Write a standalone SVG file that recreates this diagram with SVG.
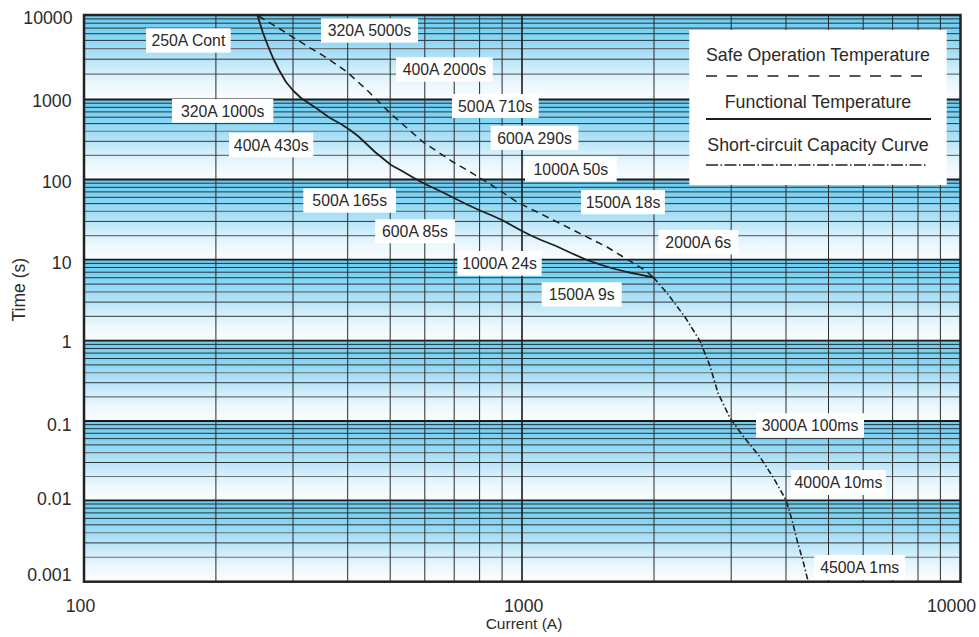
<svg xmlns="http://www.w3.org/2000/svg" width="979" height="637" viewBox="0 0 979 637">
<defs>
<linearGradient id="band" x1="0" y1="0" x2="0" y2="1">
<stop offset="0" stop-color="#68cbf0"/>
<stop offset="0.25" stop-color="#84d5f4"/>
<stop offset="0.45" stop-color="#aadff6"/>
<stop offset="0.65" stop-color="#d0eefa"/>
<stop offset="0.82" stop-color="#ecf8fd"/>
<stop offset="1" stop-color="#fafdff"/>
</linearGradient>
<style>
.band{fill:url(#band)}
.hg{stroke:#222;stroke-width:0.9}
.hgg{stroke:#6b7176;stroke-width:1.1}
.hmaj{stroke:#1a1a1a;stroke-width:1.8}
.vg{stroke:#2a2a2a;stroke-width:1}
.vmaj{stroke:#1a1a1a;stroke-width:1.6}
.border{fill:none;stroke:#222;stroke-width:2.5}
.lbox{fill:#fff}
.lbl{font-family:"Liberation Sans",Arial,sans-serif;font-size:15.8px;fill:#2a2a2a;text-anchor:middle}
.tick{font-family:"Liberation Sans",Arial,sans-serif;font-size:17.7px;fill:#2a2a2a}
.leg{font-family:"Liberation Sans",Arial,sans-serif;font-size:17.8px;fill:#2a2a2a;text-anchor:middle}
.solid{fill:none;stroke:#1f1f1f;stroke-width:1.8;stroke-linejoin:round}
.dash{fill:none;stroke:#1f1f1f;stroke-width:1.5;stroke-dasharray:7 5}
.dashdot{fill:none;stroke:#1f1f1f;stroke-width:1.6;stroke-dasharray:6 2.5 1.5 2.5}
</style>
</defs>
<rect width="979" height="637" fill="#fff"/>
<g id="background">
<rect class="band" x="84" y="15" width="876.5" height="84.5"/>
<rect class="band" x="84" y="99.5" width="876.5" height="80"/>
<rect class="band" x="84" y="179.5" width="876.5" height="80.2"/>
<rect class="band" x="84" y="259.7" width="876.5" height="81"/>
<rect class="band" x="84" y="340.7" width="876.5" height="80.3"/>
<rect class="band" x="84" y="421" width="876.5" height="79.3"/>
<rect class="band" x="84" y="500.3" width="876.5" height="81.4"/>
</g>
<g id="grid-h">
<path class="hg" d="M84 18.9H960.5M84 23.2H960.5M84 28.1H960.5M84 33.7H960.5M84 40.4H960.5M84 59.2H960.5"/>
<path class="hgg" d="M84 48.6H960.5M84 74.1H960.5"/>
<path class="hg" d="M84 103.2H960.5M84 107.3H960.5M84 111.9H960.5M84 117.2H960.5M84 123.6H960.5M84 141.3H960.5"/>
<path class="hgg" d="M84 131.3H960.5M84 155.4H960.5"/>
<path class="hg" d="M84 183.2H960.5M84 187.3H960.5M84 191.9H960.5M84 197.3H960.5M84 203.6H960.5M84 221.4H960.5"/>
<path class="hgg" d="M84 211.4H960.5M84 235.6H960.5"/>
<path class="hg" d="M84 263.4H960.5M84 267.5H960.5M84 272.2H960.5M84 277.7H960.5M84 284.1H960.5M84 302.1H960.5M84 316.3H960.5"/>
<path class="hgg" d="M84 291.9H960.5"/>
<path class="hg" d="M84 344.4H960.5M84 348.5H960.5M84 353.1H960.5M84 358.5H960.5M84 364.9H960.5M84 382.7H960.5"/>
<path class="hgg" d="M84 372.7H960.5M84 396.9H960.5"/>
<path class="hg" d="M84 424.6H960.5M84 428.7H960.5M84 433.3H960.5M84 438.6H960.5M84 444.9H960.5M84 462.5H960.5"/>
<path class="hgg" d="M84 452.6H960.5M84 476.5H960.5"/>
<path class="hg" d="M84 504H960.5M84 508.2H960.5M84 512.9H960.5M84 518.4H960.5M84 524.8H960.5M84 542.9H960.5"/>
<path class="hgg" d="M84 532.7H960.5M84 557.2H960.5"/>
<path class="hmaj" d="M84 99.5H960.5M84 179.5H960.5M84 259.7H960.5M84 340.7H960.5M84 421H960.5M84 500.3H960.5"/>
</g>
<g id="grid-v">
<path class="vg" d="M215.9 15V581.7M293 15V581.7M347.7 15V581.7M390.2 15V581.7M424.8 15V581.7M454.2 15V581.7M479.6 15V581.7M502.1 15V581.7M654 15V581.7M731.2 15V581.7M786 15V581.7M828.5 15V581.7M863.2 15V581.7M892.6 15V581.7M918 15V581.7M940.4 15V581.7"/>
<path class="vmaj" d="M522 15V581.7"/>
</g>
<rect id="plot-border" class="border" x="84" y="15" width="876.5" height="566.7"/>
<g id="axes">
<g class="tick" text-anchor="end">
<text x="72.5" y="23.8">10000</text>
<text x="71.5" y="107.3">1000</text>
<text x="71.5" y="188.3">100</text>
<text x="71.5" y="269.3">10</text>
<text x="71.5" y="348">1</text>
<text x="71.5" y="430.7">0.1</text>
<text x="71.5" y="505">0.01</text>
<text x="71.5" y="581">0.001</text>
</g>
<g class="tick" text-anchor="middle">
<text x="80.5" y="612">100</text>
<text x="523.7" y="612">1000</text>
<text x="951.5" y="612">10000</text>
</g>
<text x="524" y="629" font-family="Liberation Sans, Arial, sans-serif" font-size="15.5" fill="#2a2a2a" text-anchor="middle">Current (A)</text>
<text transform="translate(24.5 289.7) rotate(-90)" font-family="Liberation Sans, Arial, sans-serif" font-size="17.5" fill="#2a2a2a" text-anchor="middle">Time (s)</text>
</g>
<g id="labels">
<g id="lbl-250A"><rect class="lbox" x="146" y="28.3" width="84.7" height="24.4"/><text class="lbl" x="188.4" y="46.2">250A Cont</text></g>
<g id="lbl-320A-5000"><rect class="lbox" x="321" y="18.3" width="97" height="24.4"/><text class="lbl" x="369.5" y="36.2">320A 5000s</text></g>
<g id="lbl-320A-1000"><rect class="lbox" x="172" y="99" width="101.3" height="23.7"/><text class="lbl" x="222.7" y="116.5">320A 1000s</text></g>
<g id="lbl-400A-430"><rect class="lbox" x="229" y="132.7" width="84.3" height="24.6"/><text class="lbl" x="271.2" y="150.6">400A 430s</text></g>
<g id="lbl-400A-2000"><rect class="lbox" x="396" y="57.3" width="96.7" height="24.4"/><text class="lbl" x="444.4" y="75.2">400A 2000s</text></g>
<g id="lbl-500A-710"><rect class="lbox" x="452" y="94" width="86.7" height="24"/><text class="lbl" x="495.4" y="111.7">500A 710s</text></g>
<g id="lbl-600A-290"><rect class="lbox" x="490.7" y="125.7" width="87.6" height="24.3"/><text class="lbl" x="534.5" y="143.5">600A 290s</text></g>
<g id="lbl-1000A-50"><rect class="lbox" x="525" y="156.7" width="91.7" height="25"/><text class="lbl" x="570.9" y="174.9">1000A 50s</text></g>
<g id="lbl-500A-165"><rect class="lbox" x="303.3" y="188.3" width="92.7" height="24.4"/><text class="lbl" x="349.7" y="206.2">500A 165s</text></g>
<g id="lbl-1500A-18"><rect class="lbox" x="581" y="190" width="84" height="24.3"/><text class="lbl" x="623" y="207.8">1500A 18s</text></g>
<g id="lbl-600A-85"><rect class="lbox" x="375" y="219.3" width="80" height="24"/><text class="lbl" x="415" y="237">600A 85s</text></g>
<g id="lbl-2000A-6"><rect class="lbox" x="658.3" y="230" width="80" height="24.5"/><text class="lbl" x="698.3" y="248">2000A 6s</text></g>
<g id="lbl-1000A-24"><rect class="lbox" x="457.3" y="251" width="84.4" height="24.7"/><text class="lbl" x="499.5" y="269">1000A 24s</text></g>
<g id="lbl-1500A-9"><rect class="lbox" x="541.7" y="282.3" width="80" height="24.4"/><text class="lbl" x="581.7" y="300.2">1500A 9s</text></g>
<g id="lbl-3000A"><rect class="lbox" x="756" y="413.3" width="108" height="24.4"/><text class="lbl" x="810" y="431.2">3000A 100ms</text></g>
<g id="lbl-4000A"><rect class="lbox" x="791" y="470" width="95" height="25"/><text class="lbl" x="838.5" y="488.2">4000A 10ms</text></g>
<g id="lbl-4500A"><rect class="lbox" x="814" y="555" width="91.3" height="25"/><text class="lbl" x="859.7" y="573.2">4500A 1ms</text></g>
</g>
<g id="curves">
<polyline id="functional" class="solid" points="257.5,15.5 263,33 268,46 273,58 279,70 286,82 293,90.5 301,98 316,108 330,118 341,124 350,130 358,136 366,143.5 375,152 383,158.5 391,165 402,171 414,178 425,184 440,191 454,198 467,204.5 480,210.5 492,215.5 503,220.5 512,225.5 521,230.5 531,235.5 541,240 556,246 571,253 587,260 600,264.5 613,268.5 627,272 641,274.8 653.5,277.5"/>
<polyline id="safe" class="dash" points="258.5,16 280,29 307,46 327,58 347,72 368,91 390,113 407,128 423,142 438,152 453,162 467,170 480,178 493,186 505,194 517,202 535,211 553,220 573,230 593,240 607,247 620,255 635,264 646,271 653.5,277.5"/>
<polyline id="shortcircuit" class="dashdot" points="653.5,277.5 667,293 685,317 700,341 710,366 718,393 730,418 743,436 760,457 773,477 786,500 792,520 797,540 803,561 808,581"/>
</g>
<g id="legend">
<rect x="689.3" y="30" width="257.4" height="155" fill="#fff"/>
<text class="leg" x="818" y="61">Safe Operation Temperature</text>
<line class="dash" x1="706" y1="76" x2="923" y2="76" style="stroke-dasharray:11 9.5"/>
<text class="leg" x="818" y="108.3">Functional Temperature</text>
<line class="solid" x1="706" y1="119" x2="931" y2="119"/>
<text class="leg" x="818" y="151">Short-circuit Capacity Curve</text>
<line class="dashdot" x1="706" y1="165" x2="928" y2="165" style="stroke-dasharray:12 2.5 1.5 2.5"/>
</g>
</svg>
